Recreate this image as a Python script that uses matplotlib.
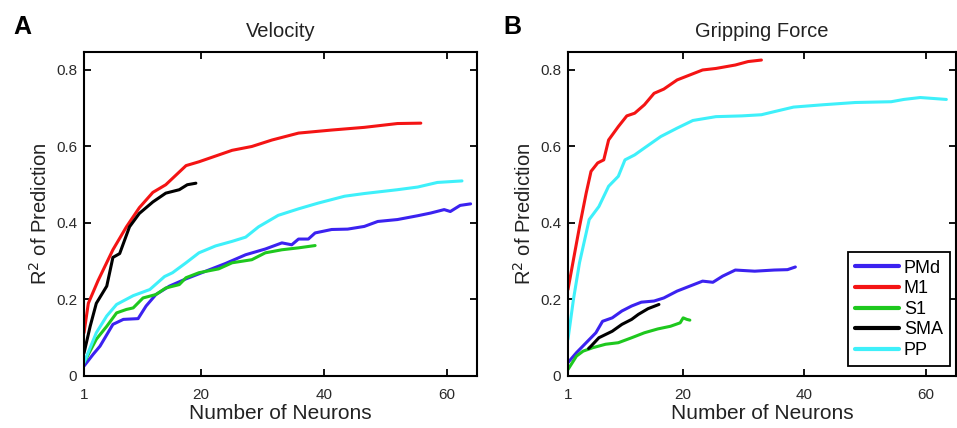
import matplotlib
matplotlib.use("Agg")
import matplotlib.pyplot as plt

plt.rcParams["font.family"] = ["Liberation Sans", "DejaVu Sans"]

areas = ["PMd", "M1", "S1", "SMA", "PP"]
colors = {"PMd": "#3b22f0", "M1": "#f41414", "S1": "#1ec81e", "SMA": "#000000", "PP": "#3ef0fa"}

# Panel A: velocity decoding (neurons, R^2)
vel_pmd_x = [1, 2.5, 3.6, 5.7, 7.4, 9.8, 11.1, 12.7, 14.9, 17.6, 20.8, 24, 27.3, 30.5, 33.2, 34.8,
             35.9, 37.5, 38.6, 41.3, 43.9, 46.6, 48.8, 52, 55.3, 57.4, 59.6, 60.6, 62.2, 63.9]
vel_pmd_y = [0.026, 0.057, 0.078, 0.135, 0.148, 0.15, 0.183, 0.213, 0.235, 0.254, 0.274, 0.294, 0.317,
             0.332, 0.348, 0.343, 0.358, 0.358, 0.374, 0.383, 0.384, 0.391, 0.404, 0.409, 0.419,
             0.426, 0.435, 0.43, 0.446, 0.45]
vel_m1_x = [1, 1.7, 3.3, 5.7, 7.9, 10, 12.2, 14.3, 17.6, 19.7, 22.4, 25.1, 28.3, 31.6, 35.9, 41.3,
            46.6, 52, 55.8]
vel_m1_y = [0.113, 0.19, 0.25, 0.33, 0.39, 0.44, 0.48, 0.5, 0.55, 0.56, 0.575, 0.59, 0.6, 0.617,
            0.635, 0.643, 0.65, 0.66, 0.661]
vel_s1_x = [1, 3, 4.7, 6.3, 7.9, 9, 10.6, 12.7, 14.3, 16.5, 17.6, 19.7, 22.9, 25.1, 28.3, 30.5,
            33.2, 35.9, 38.6]
vel_s1_y = [0.035, 0.096, 0.13, 0.165, 0.174, 0.178, 0.204, 0.213, 0.23, 0.239, 0.257, 0.27, 0.28,
            0.296, 0.304, 0.322, 0.33, 0.335, 0.341]
vel_sma_x = [1, 2, 3, 4.7, 5.7, 6.8, 8.4, 10, 12.2, 14.3, 16.5, 17.8, 19.2]
vel_sma_y = [0.06, 0.13, 0.19, 0.235, 0.31, 0.32, 0.39, 0.425, 0.455, 0.478, 0.487, 0.5, 0.504]
vel_pp_x = [1, 3, 4.7, 6.3, 9, 11.7, 14.1, 15.4, 17.6, 19.7, 22.4, 25.1, 27.3, 29.4, 32.6, 35.9,
            39.1, 43.4, 46.6, 52, 55.3, 58.5, 62.5]
vel_pp_y = [0.035, 0.113, 0.157, 0.187, 0.21, 0.226, 0.26, 0.27, 0.296, 0.322, 0.34, 0.352, 0.363,
            0.39, 0.42, 0.437, 0.452, 0.47, 0.477, 0.487, 0.494, 0.506, 0.51]

# Panel B: gripping force decoding
grip_pmd_x = [1, 2.4, 4, 5.6, 6.7, 8.3, 9.9, 11.5, 13.1, 15.2, 16.8, 19, 21.1, 23.2, 24.9, 26.5,
              28.6, 31.8, 35, 37.2, 38.5]
grip_pmd_y = [0.035, 0.061, 0.087, 0.113, 0.143, 0.152, 0.17, 0.183, 0.193, 0.196, 0.204, 0.222,
              0.235, 0.248, 0.245, 0.261, 0.277, 0.274, 0.277, 0.278, 0.285]
grip_m1_x = [1, 1.9, 2.9, 4, 4.8, 5.9, 6.9, 7.7, 9.3, 10.7, 12, 13.6, 15.2, 16.8, 19, 21.1, 23.2,
             25.4, 28.6, 30.7, 32.9]
grip_m1_y = [0.226, 0.304, 0.39, 0.478, 0.535, 0.557, 0.565, 0.617, 0.652, 0.68, 0.687, 0.709,
             0.739, 0.75, 0.774, 0.787, 0.8, 0.804, 0.813, 0.822, 0.826]
grip_s1_x = [1, 2.4, 3.5, 5.1, 7.2, 9.3, 11.5, 13.6, 15.8, 17.9, 19.5, 20, 20.6, 21.1]
grip_s1_y = [0.017, 0.052, 0.065, 0.074, 0.083, 0.087, 0.1, 0.113, 0.123, 0.13, 0.139, 0.152,
             0.148, 0.146]
grip_sma_x = [4.4, 4.8, 6.1, 8.3, 9.9, 11.5, 12.6, 14.2, 16]
grip_sma_y = [0.072, 0.078, 0.1, 0.117, 0.135, 0.148, 0.161, 0.176, 0.187]
grip_pp_x = [1, 1.9, 2.9, 4.5, 6.1, 7.7, 9.3, 10.4, 12, 13.6, 16.3, 19, 21.6, 25.4, 29.7, 32.9,
             35, 38.2, 43, 48.4, 54.3, 56.4, 59.1, 63.4]
grip_pp_y = [0.096, 0.2, 0.296, 0.409, 0.443, 0.496, 0.522, 0.565, 0.578, 0.596, 0.626, 0.648,
             0.668, 0.678, 0.68, 0.683, 0.691, 0.703, 0.709, 0.715, 0.717, 0.723, 0.728, 0.723]

panels = [
    ("A", "Velocity", {"PMd": (vel_pmd_x, vel_pmd_y), "M1": (vel_m1_x, vel_m1_y),
                       "S1": (vel_s1_x, vel_s1_y), "SMA": (vel_sma_x, vel_sma_y),
                       "PP": (vel_pp_x, vel_pp_y)}),
    ("B", "Gripping Force", {"PMd": (grip_pmd_x, grip_pmd_y), "M1": (grip_m1_x, grip_m1_y),
                             "S1": (grip_s1_x, grip_s1_y), "SMA": (grip_sma_x, grip_sma_y),
                             "PP": (grip_pp_x, grip_pp_y)}),
]

fig = plt.figure(figsize=(9.57, 4.28), dpi=100)
rects = [[0.0878, 0.1215, 0.411, 0.757], [0.5935, 0.1215, 0.4055, 0.757]]
letter_x = [0.023, 0.535]

for (letter, title, series), rect, lx in zip(panels, rects, letter_x):
    ax = fig.add_axes(rect)
    for name in areas:
        xs, ys = series[name]
        ax.plot(xs, ys, color=colors[name], lw=2.2, label=name, solid_capstyle="round")
    ax.set_xlim(1, 65)
    ax.set_ylim(0, 0.847)
    ax.set_xticks([1, 20, 40, 60])
    ax.set_yticks([0, 0.2, 0.4, 0.6, 0.8])
    ax.set_yticklabels(["0", "0.2", "0.4", "0.6", "0.8"])
    ax.tick_params(direction="in", top=True, right=True, length=5, width=1.3,
                   labelsize=11, labelcolor="#2a2a2a", pad=5)
    ax.tick_params(axis="x", pad=9)
    for sp in ax.spines.values():
        sp.set_linewidth(1.5)
    ax.set_title(title, fontsize=14.5, color="#222222", pad=11)
    ax.set_xlabel("Number of Neurons", fontsize=15, color="#222222", labelpad=1)
    ax.set_ylabel("R$^2$ of Prediction", fontsize=14.5, color="#222222", labelpad=4)
    fig.text(lx, 0.937, letter, fontsize=18, fontweight="bold", ha="center", va="center")
    if letter == "B":
        leg = ax.legend(loc="lower right", bbox_to_anchor=(0.985, 0.03), fontsize=13,
                        handlelength=2.4, handletextpad=0.3, labelspacing=0.2,
                        borderpad=0.4, borderaxespad=0.0, fancybox=False, framealpha=1)
        leg.get_frame().set_edgecolor("black")
        leg.get_frame().set_linewidth(1.3)
        for ln in leg.get_lines():
            ln.set_linewidth(3)

fig.savefig("out.png", dpi=100)
